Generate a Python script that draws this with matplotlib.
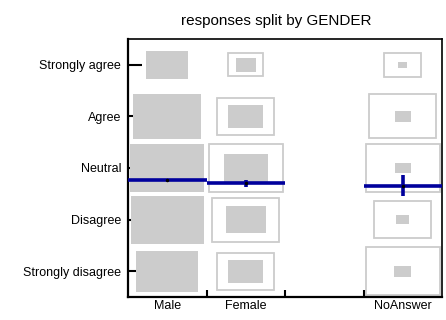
import matplotlib
matplotlib.use("Agg")
import matplotlib.pyplot as plt
from matplotlib.patches import Rectangle
import numpy as np

plt.rcParams['font.family'] = ['Liberation Sans', 'DejaVu Sans']

# categories and response levels
genders = ['Male', 'Female', 'Other', 'NoAnswer']   # 'Other' slot is empty
gender_labels = ['Male', 'Female', '', 'NoAnswer']
levels = ['Strongly disagree', 'Disagree', 'Neutral', 'Agree', 'Strongly agree']

# relative box sizes (fraction of cell), order = levels (SD .. SA)
filled_male = [0.79, 0.93, 0.94, 0.86, 0.54]
filled_female = [0.44, 0.51, 0.56, 0.44, 0.26]
filled_noanswer = [0.22, 0.16, 0.21, 0.20, 0.12]

outline_female = [0.72, 0.85, 0.94, 0.72, 0.45]
outline_noanswer = [0.94, 0.72, 0.94, 0.85, 0.47]

# mean response (1..5) and error per group
mean_vals = {'Male': 2.77, 'Female': 2.70, 'NoAnswer': 2.66}
err_vals = {'Male': 0.01, 'Female': 0.065, 'NoAnswer': 0.2}

filled = {'Male': filled_male, 'Female': filled_female, 'NoAnswer': filled_noanswer}
outline = {'Female': outline_female, 'NoAnswer': outline_noanswer}

fig = plt.figure(figsize=(4.46, 3.2), dpi=100)
ax = fig.add_axes([128/446, 1-297/320, 314/446, 258/320])

grey = '#cccccc'
blue = '#00009c'

for gi, g in enumerate(genders):
    xc = gi + 0.5
    if g in outline:
        for li, s in enumerate(outline[g]):
            yc = li + 1
            ax.add_patch(Rectangle((xc - s/2, yc - s/2), s, s, facecolor='none',
                                   edgecolor=grey, linewidth=1.3, zorder=1))
    if g in filled:
        for li, s in enumerate(filled[g]):
            yc = li + 1
            ax.add_patch(Rectangle((xc - s/2, yc - s/2), s, s, facecolor=grey,
                                   edgecolor='none', zorder=2))
    if g in mean_vals:
        m = mean_vals[g]
        ax.plot([gi, gi + 1], [m, m], color=blue, linewidth=2.6,
                solid_capstyle='butt', zorder=3)
        ax.errorbar([xc], [m], yerr=[err_vals[g]], fmt='none', ecolor=blue,
                    elinewidth=2.6, capsize=0, zorder=4)
        ax.plot([xc], [m], 'o', color='black', markersize=1.5, zorder=5)

ax.set_xlim(0, 4)
ax.set_ylim(0.5, 5.5)

ax.set_yticks(np.arange(1, 6))
ax.set_yticklabels(levels, fontsize=9)
ax.set_xticks([1, 2, 3])
ax.set_xticklabels([])
ax.set_xticks([0.5, 1.5, 2.5, 3.5], minor=True)
ax.set_xticklabels(gender_labels, minor=True, fontsize=9)
ax.tick_params(axis='x', which='minor', length=0, pad=2)
ax.tick_params(axis='x', which='major', direction='in', length=5, width=1.5)
ax.tick_params(axis='y', direction='in', length=10, width=1.5, pad=5)

for side in ['left', 'bottom']:
    ax.spines[side].set_linewidth(1.6)
for side in ['top', 'right']:
    ax.spines[side].set_linewidth(1.2)

fig.text(276/446, 1-21/320, 'responses split by GENDER', ha='center', va='center',
         fontsize=11)

fig.savefig('out.png', dpi=100)
